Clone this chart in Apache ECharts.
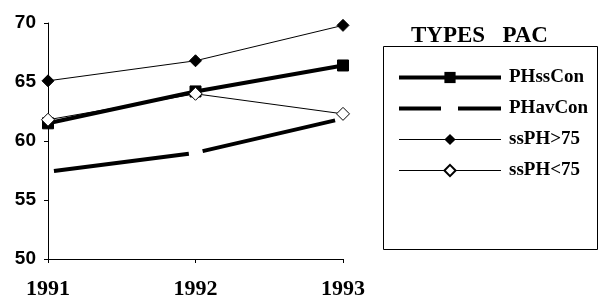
<!DOCTYPE html>
<html>
<head>
<meta charset="utf-8">
<script src="https://cdn.jsdelivr.net/npm/echarts@6/dist/echarts.min.js"></script>
<style>
  html, body { margin: 0; padding: 0; background: #fff; }
  #chart { width: 599px; height: 301px; }
</style>
</head>
<body>
<div id="chart"></div>
<script>
  var years = ['1991', '1992', '1993'];
  var seriesNames = ['PHssCon', 'PHavCon', 'ssPH>75', 'ssPH<75'];
  var phssCon = [61.5, 64.2, 66.4];
  var phavCon = [57.4, 59.0, 61.9];
  var ssPHover75 = [65.1, 66.8, 69.8];
  var ssPHunder75 = [61.8, 64.0, 62.3];
  var legendTitle = 'TYPES   PAC';

  // long-dash legend icon: two dashes over the full item box
  var dashIcon = 'path://M0,0h0.01v0.01h-0.01zM0,5h42v4h-42zM59,5h43v4h-43zM101.99,13.99h0.01v0.01h-0.01z';

  var chart = echarts.init(document.getElementById('chart'));

  var option = {
    animation: false,
    backgroundColor: '#fff',
    grid: {
      left: 48,
      right: 256,
      top: 23,
      bottom: 42
    },
    title: {
      text: legendTitle,
      left: 411,
      top: 25,
      padding: 0,
      textStyle: {
        fontFamily: 'Liberation Serif',
        fontWeight: 'bold',
        fontSize: 23,
        color: '#000'
      }
    },
    legend: {
      orient: 'vertical',
      left: 397,
      top: 68,
      padding: 0,
      itemWidth: 102,
      itemHeight: 14,
      itemGap: 12,
      textStyle: {
        fontFamily: 'Liberation Serif',
        fontWeight: 'bold',
        fontSize: 19,
        lineHeight: 14,
        color: '#000',
        padding: [0, 0, 0, 3]
      },
      data: [
        {name: seriesNames[0], lineStyle: {width: 4, type: 'solid'}},
        {name: seriesNames[1], icon: dashIcon, itemStyle: {color: '#000'}},
        {name: seriesNames[2], lineStyle: {width: 1, type: 'solid'}},
        {name: seriesNames[3], lineStyle: {width: 1, type: 'solid'}}
      ]
    },
    graphic: [{
      type: 'rect',
      shape: {x: 383.5, y: 46.5, width: 214, height: 203},
      style: {fill: 'none', stroke: '#000', lineWidth: 1}
    }],
    xAxis: {
      type: 'category',
      data: years,
      boundaryGap: false,
      axisLine: {lineStyle: {color: '#000', width: 1}},
      axisTick: {show: true, length: 4, lineStyle: {color: '#000'}},
      axisLabel: {
        margin: 19,
        fontFamily: 'Liberation Serif',
        fontWeight: 'bold',
        fontSize: 22,
        color: '#000'
      },
      splitLine: {show: false}
    },
    yAxis: {
      type: 'value',
      min: 50,
      max: 70,
      interval: 5,
      axisLine: {show: true, lineStyle: {color: '#000', width: 1}},
      axisTick: {show: true, length: 4, lineStyle: {color: '#000'}},
      axisLabel: {
        margin: 12,
        fontFamily: 'Liberation Sans',
        fontWeight: 'bold',
        fontSize: 19,
        color: '#000'
      },
      splitLine: {show: false}
    },
    series: [
      {
        name: seriesNames[0],
        type: 'line',
        data: phssCon,
        symbol: 'rect',
        symbolSize: 11,
        z: 3,
        lineStyle: {color: '#000', width: 4},
        itemStyle: {color: '#000', borderColor: '#000'}
      },
      {
        name: seriesNames[1],
        type: 'line',
        data: phavCon,
        symbol: 'none',
        z: 2,
        lineStyle: {color: '#000', width: 4, type: [136, 14], dashOffset: 144},
        itemStyle: {color: '#000'}
      },
      {
        name: seriesNames[2],
        type: 'line',
        data: ssPHover75,
        symbol: 'diamond',
        symbolSize: 12,
        z: 4,
        lineStyle: {color: '#000', width: 1},
        itemStyle: {color: '#000', borderColor: '#000'}
      },
      {
        name: seriesNames[3],
        type: 'line',
        data: ssPHunder75,
        symbol: 'diamond',
        symbolSize: 13,
        z: 5,
        lineStyle: {color: '#000', width: 1},
        itemStyle: {color: '#fff', borderColor: '#000', borderWidth: 1}
      }
    ]
  };

  chart.setOption(option);
</script>
</body>
</html>
